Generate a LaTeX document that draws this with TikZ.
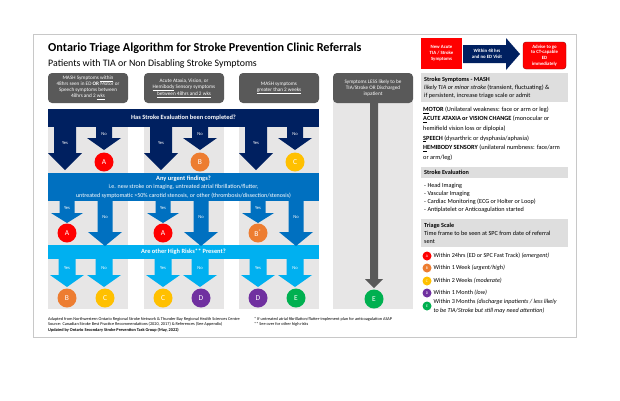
\documentclass[tikz,border=0pt]{standalone}
\usepackage{fontspec}
\setmainfont{Carlito}
\usepackage{tikz}
\usetikzlibrary{shapes, arrows, positioning}
\definecolor{navy}{HTML}{002060}
\definecolor{midblue}{HTML}{0070C0}
\definecolor{lightblue}{HTML}{00B0F0}
\definecolor{boxgray}{HTML}{595959}
\definecolor{panelgray}{HTML}{E7E6E6}
\definecolor{headgray}{HTML}{DEDEDE}
\definecolor{framegray}{HTML}{C8C8C8}
\definecolor{triageA}{HTML}{FF0000}
\definecolor{triageB}{HTML}{ED7D31}
\definecolor{triageC}{HTML}{FFC000}
\definecolor{triageD}{HTML}{7030A0}
\definecolor{triageE}{HTML}{00B050}
\newcommand{\blockarrow}[7]{\fill[#1] (#2-#5,#3) -- (#2-#5,#4-#7) -- (#2-#6,#4-#7) -- (#2,#4) -- (#2+#6,#4-#7) -- (#2+#5,#4-#7) -- (#2+#5,#3) -- cycle;}
\tikzstyle{symptombox} = [fill=boxgray, rounded corners=4pt, minimum width=80pt, minimum height=30pt, inner sep=1pt, text=white, align=center, font=\fontsize{5.2}{6.1}\selectfont]
\tikzstyle{band} = [minimum width=271pt, inner sep=0pt, text=white, align=center]
\tikzstyle{yesno} = [text=white, inner sep=0pt, font=\fontsize{4.6}{5}\selectfont]
\tikzstyle{triage} = [circle, minimum size=19pt, inner sep=0pt, text=white, font=\fontsize{7.5}{8}\selectfont]
\tikzstyle{legenddot} = [circle, minimum size=9pt, inner sep=0pt, text=white, font=\fontsize{3.8}{4}\selectfont]
\tikzstyle{sidetext} = [anchor=north west, inner sep=0pt, align=left]
\tikzstyle{redbox} = [fill=triageA, text=white, align=center, inner sep=0pt, font=\fontsize{4.8}{5.8}\selectfont\bfseries]
\tikzstyle{footnote} = [anchor=north west, inner sep=0pt, align=left, font=\fontsize{4.3}{5.2}\selectfont]

\begin{document}
\begin{tikzpicture}[x=1pt,y=-1pt]
	\useasboundingbox (0,0) rectangle (620,400);
	\fill[white] (0,0) rectangle (620,400);
	\draw[framegray, line width=0.8pt] (33,34) rectangle (576,337);
	\node[anchor=base west, inner sep=0pt, font=\fontsize{12.2}{13}\selectfont\bfseries] (title) at (48,51) {Ontario Triage Algorithm for Stroke Prevention Clinic Referrals};
	\node[anchor=base west, inner sep=0pt, font=\fontsize{9.9}{10}\selectfont] (subtitle) at (48,66) {Patients with TIA or Non Disabling Stroke Symptoms};

	\node[redbox, minimum width=41pt, minimum height=31pt] (newacute) at (441.5,53.5) {New Acute\\TIA / Stroke\\Symptoms};
	\fill[navy] (463,45) -- (506,45) -- (506,38) -- (520,54) -- (506,70) -- (506,63) -- (463,63) -- cycle;
	\node[redbox, fill=none] (within) at (487,54) {Within 48 hrs\\and no ED Visit};
	\node[redbox, draw=red!60!black, rounded corners=3pt, minimum width=43pt, minimum height=27pt] (advise) at (544.5,55.5) {Advise to go\\to CT-capable\\ED\\immediately};

	\foreach \dx in {0,96,191}
		\fill[panelgray] (48+\dx,109) rectangle (128+\dx,309);
	\fill[panelgray] (333,95) rectangle (413,309);

	\node[symptombox] (mashwithin) at (88,88) {MASH Symptoms \underline{within}\\48hrs seen in ED \textbf{OR} Motor or\\Speech symptoms between\\48hrs and 2 \underline{wks}};
	\node[symptombox] (ataxia) at (184,88) {Acute Ataxia, Vision, or\\\underline{Hemibody} Sensory symptoms\\\underline{between 48hrs and 2 wks}};
	\node[symptombox] (mashgreater) at (279,88) {MASH symptoms\\\underline{greater than 2 weeks}};
	\node[symptombox] (lesslikely) at (373,88) {Symptoms LESS likely to be\\TIA/Stroke OR Discharged\\inpatient};

	\node[band, fill=navy, minimum height=18pt, font=\fontsize{6.4}{8}\selectfont\bfseries] (evaluation) at (183.5,118) {Has Stroke Evaluation been completed?};
	\node[band, fill=midblue, minimum height=28pt, font=\fontsize{6}{8.5}\selectfont] (urgent) at (183.5,187) {\textbf{\fontsize{6.4}{8.5}\selectfont Any urgent findings?}\\i.e. new stroke on imaging, untreated atrial fibrillation/flutter,\\untreated symptomatic >50\% carotid stenosis, or other (thrombosis/dissection/stenosis)};
	\node[band, fill=lightblue, minimum height=14pt, font=\fontsize{6.4}{8}\selectfont\bfseries] (highrisk) at (183.5,252) {Are other High Risks** Present?};

	\foreach \dx/\ra/\ca/\rb/\cb/\rc/\cc/\rd/\cd [count=\i] in {0/A/triageA/A/triageA/B/triageB/C/triageC, 96/B/triageB/A/triageA/C/triageC/D/triageD, 191/C/triageC/B\textsuperscript{*}/triageB/D/triageD/E/triageE}{
		\blockarrow{navy}{65+\dx}{127}{170}{11}{17}{17}
		\blockarrow{navy}{104+\dx}{127}{150}{8}{17}{12}
		\blockarrow{midblue}{67+\dx}{201}{223}{7.5}{16}{10}
		\blockarrow{midblue}{105+\dx}{201}{246}{7.5}{17}{14}
		\blockarrow{lightblue}{67+\dx}{259}{287}{8.5}{17}{12}
		\blockarrow{lightblue}{104+\dx}{259}{287}{8.5}{17}{12}
		\node[yesno] (evalyes\i) at (65+\dx,143) {Yes};
		\node[yesno] (evalno\i) at (104+\dx,134) {No};
		\node[yesno] (urgentyes\i) at (67+\dx,208) {Yes};
		\node[yesno] (urgentno\i) at (105+\dx,217) {No};
		\node[yesno] (riskyes\i) at (67+\dx,268) {Yes};
		\node[yesno] (riskno\i) at (104+\dx,268) {No};
		\node[triage, fill=\ca] (noeval\i) at (104+\dx,162) {\ra};
		\node[triage, fill=\cb] (finding\i) at (67+\dx,233) {\rb};
		\node[triage, fill=\cc] (risk\i) at (67+\dx,298) {\rc};
		\node[triage, fill=\cd] (norisk\i) at (105+\dx,298) {\rd};
	}
	\blockarrow{boxgray}{374}{103}{288}{4}{9}{9}
	\node[triage, fill=triageE] (lesslikelyE) at (374,299) {E};

	\fill[headgray] (421,73) rectangle (568,102);
	\node[sidetext, font=\fontsize{6.2}{8}\selectfont] (mashhead) at (424,76.5) {\textbf{Stroke Symptoms - MASH}\\\textit{likely TIA or minor stroke} (transient, fluctuating) \&\\if persistent, increase triage scale or admit};
	\node[sidetext, font=\fontsize{6.3}{9.6}\selectfont] (mashlist) at (423,106.5) {\textbf{\underline{M}OTOR} (Unilateral weakness: face or arm or leg)\\\textbf{\underline{A}CUTE ATAXIA or VISION CHANGE} (monocular or\\hemifield vision loss or diplopia)\\\textbf{\underline{S}PEECH} (dysarthric or dysphasia/aphasia)\\\textbf{\underline{H}EMIBODY SENSORY} (unilateral numbness: face/arm\\or arm/leg)};
	\fill[headgray] (421,167) rectangle (568,178);
	\node[sidetext, font=\fontsize{6.2}{8}\selectfont\bfseries] (evalhead) at (424,169.5) {Stroke Evaluation};
	\node[sidetext, font=\fontsize{6.2}{8.3}\selectfont] (evallist) at (424,182.5) {- Head Imaging\\- Vascular Imaging\\- Cardiac Monitoring (ECG or Holter or Loop)\\- Antiplatelet or Anticoagulation started};
	\fill[headgray] (421,219) rectangle (568,247);
	\node[sidetext, font=\fontsize{6.2}{8}\selectfont] (triagehead) at (424,222.5) {\textbf{Triage Scale}\\Time frame to be seen at SPC from date of referral\\sent};
	\foreach \y/\l/\c/\t [count=\i] in {256/A/triageA/{Within 24hrs (ED or SPC Fast Track) \textit{(emergent)}}, 268/B/triageB/{Within 1 Week \textit{(urgent/high)}}, 281/C/triageC/{Within 2 Weeks \textit{(moderate)}}, 293/D/triageD/{Within 1 Month \textit{(low)}}, 306/E/triageE/{Within 3 Months \textit{(discharge inpatients / less likely}\\\textit{to be TIA/Stroke but still may need attention)}}}{
		\node[legenddot, fill=\c] (dot\i) at (427,\y) {\l};
		\node[anchor=west, inner sep=0pt, align=left, font=\fontsize{6.1}{9}\selectfont] (level\i) at (433.5,\y) {\t};
	}

	\node[footnote] (adapted) at (48,317.5) {Adapted from Northwestern Ontario Regional Stroke Network \& Thunder Bay Regional Health Sciences Centre\\Source: Canadian Stroke Best Practice Recommendations (2020, 2017) \& References (See Appendix)\\\textbf{Updated by Ontario Secondary Stroke Prevention Task Group (May, 2022)}};
	\node[footnote] (notes) at (254,317.5) {* If untreated atrial fibrillation/flutter-implement plan for anticoagulation ASAP\\** See over for other high risks};
\end{tikzpicture}
\end{document}
